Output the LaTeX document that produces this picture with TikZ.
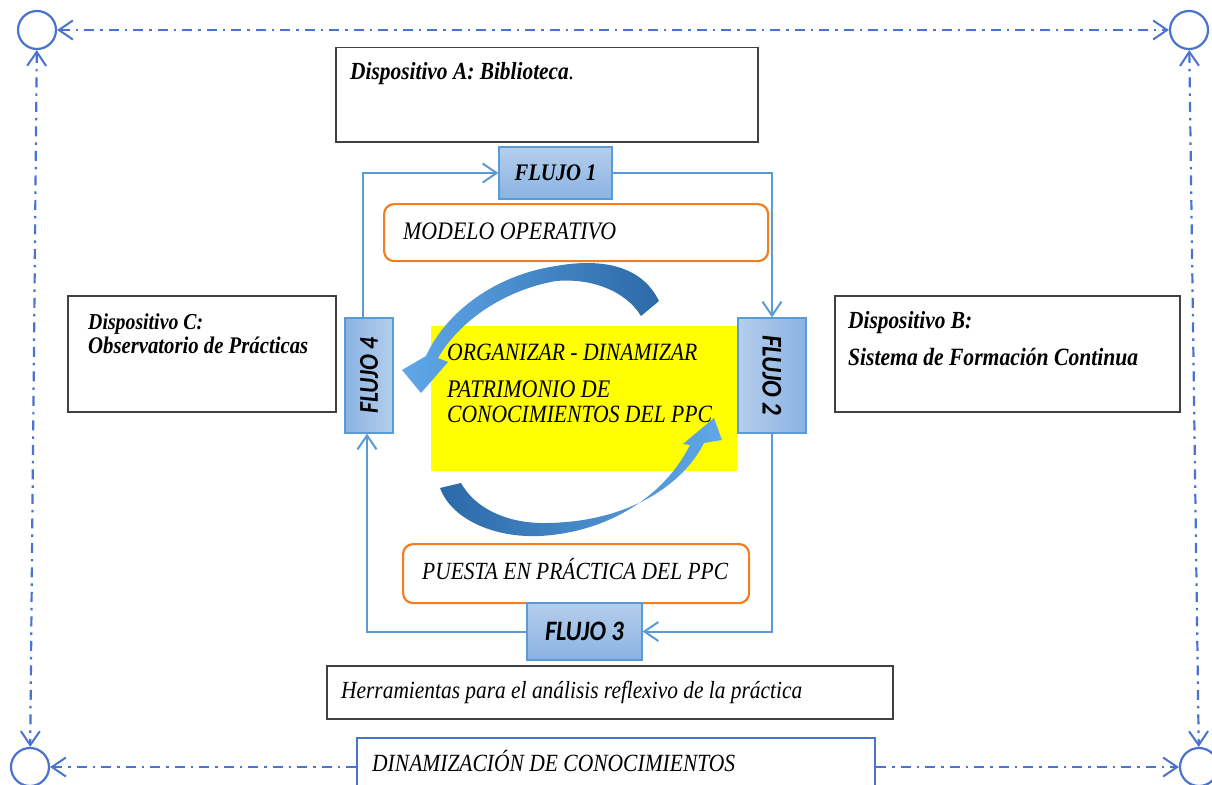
\documentclass[tikz,border=0pt]{standalone}
\usepackage{fontspec}
\setmainfont{Liberation Serif}
\newfontfamily\flujofont{Carlito}
\usetikzlibrary{arrows.meta}

\definecolor{dashblue}{HTML}{4A72CF}
\definecolor{flowblue}{HTML}{5B9BD5}
\definecolor{flowtop}{HTML}{B5CEEC}
\definecolor{flowbot}{HTML}{8AB3E2}
\definecolor{orangeedge}{HTML}{F47E1F}
\definecolor{boxedge}{HTML}{404040}
\definecolor{arcdark}{HTML}{2C69A8}
\definecolor{arclight}{HTML}{60A8E8}
\definecolor{padyellow}{HTML}{FFFF00}

% fit a text to a given width, a little taller than the natural font
\newcommand{\fitw}[2]{\resizebox{#1}{!}{\scalebox{1}[1.15]{#2}}}

\tikzset{
  plainbox/.style={draw=boxedge, line width=1.5pt, fill=white, anchor=north west, inner sep=0pt},
  roundbox/.style={draw=orangeedge, line width=2.2pt, rounded corners=10pt, fill=white, anchor=north west, inner sep=0pt},
  flowbox/.style={draw=flowblue, line width=1.2pt, top color=flowtop, bottom color=flowbot, inner sep=0pt},
  label/.style={anchor=base west, inner sep=0pt},
  ring/.style={circle, draw=dashblue, line width=2.2pt, minimum size=38pt, inner sep=0pt},
  dashline/.style={draw=dashblue, line width=2.2pt, dash pattern=on 10pt off 6pt on 2.5pt off 6pt},
  vtip/.tip={Straight Barb[length=14pt, width=19pt, line width=2pt]},
  flowline/.style={draw=flowblue, line width=2pt},
}

\begin{document}
\begin{tikzpicture}[x=1pt, y=-1pt]
\useasboundingbox (0,0) rectangle (1212,784);

% corner rings
\node[ring] (cTL) at (37,30) {};
\node[ring] (cTR) at (1189,30) {};
\node[ring] (cBL) at (30,767) {};
\node[ring] (cBR) at (1199,767) {};

% boxes of the three devices
\node[plainbox, minimum width=422pt, minimum height=94pt] (devA) at (335,47) {};
\node[label] (devAt) at (350,79) {\fitw{224pt}{\textbf{\textit{Dispositivo A: Biblioteca}}\textit{.}}};

\node[plainbox, minimum width=268pt, minimum height=116pt] (devC) at (67,295) {};
\node[label] (devCt1) at (88,329) {\fitw{115pt}{\textbf{\textit{Dispositivo C:}}}};
\node[label] (devCt2) at (88,353) {\fitw{220pt}{\textbf{\textit{Observatorio de Prácticas}}}};

\node[plainbox, minimum width=345pt, minimum height=116pt] (devB) at (834,295) {};
\node[label] (devBt1) at (848,328) {\fitw{124pt}{\textbf{\textit{Dispositivo B:}}}};
\node[label] (devBt2) at (848,365) {\fitw{290pt}{\textbf{\textit{Sistema de Formación Continua}}}};

% operative model and practice boxes
\node[roundbox, minimum width=384pt, minimum height=57pt] (model) at (383,203) {};
\node[label] (modelt) at (403,239) {\fitw{213pt}{\textit{MODELO OPERATIVO}}};

\node[roundbox, minimum width=346pt, minimum height=59pt] (practice) at (402,543) {};
\node[label] (practicet) at (422,579) {\fitw{306pt}{\textit{PUESTA EN PRÁCTICA DEL PPC}}};

% central knowledge pad
\node[fill=padyellow, anchor=north west, minimum width=306pt, minimum height=145pt, inner sep=0pt] (pad) at (431,326) {};
\node[label] (padt1) at (447,360) {\fitw{250pt}{\textit{ORGANIZAR - DINAMIZAR}}};
\node[label] (padt2) at (447,397) {\fitw{163pt}{\textit{PATRIMONIO DE}}};
\node[label] (padt3) at (447,422) {\fitw{265pt}{\textit{CONOCIMIENTOS DEL PPC}}};

% lower boxes
\node[plainbox, minimum width=566pt, minimum height=53pt] (tools) at (326,665) {};
\node[label] (toolst) at (341,698) {\fitw{461pt}{\textit{Herramientas para el análisis reflexivo de la práctica}}};

\node[plainbox, draw=dashblue, line width=2pt, minimum width=518pt, minimum height=70pt] (dina) at (356,737) {};
\node[label] (dinat) at (372,771) {\fitw{363pt}{\textit{DINAMIZACIÓN DE CONOCIMIENTOS}}};

% the four flows
\node[flowbox, minimum width=113pt, minimum height=52pt] (f1) at (555.5,173) {\fitw{82pt}{\textbf{\textit{FLUJO 1}}}};
\node[flowbox, shading angle=90, minimum width=68pt, minimum height=115pt] (f2) at (772,375.5) {\rotatebox{-90}{\fitw{80pt}{\flujofont\textbf{\textit{FLUJO 2}}}}};
\node[flowbox, minimum width=115pt, minimum height=57pt] (f3) at (584.5,631.5) {\fitw{79pt}{\flujofont\textbf{\textit{FLUJO 3}}}};
\node[flowbox, shading angle=-90, minimum width=48pt, minimum height=115pt] (f4) at (369,375.5) {\rotatebox{90}{\fitw{76pt}{\flujofont\textbf{\textit{FLUJO 4}}}}};

% flow connectors
\draw[flowline, -vtip] ([xshift=-6pt]f4.north) |- (f1.west);
\draw[flowline, -vtip] (f1.east) -| (f2.north);
\draw[flowline, -vtip] (f2.south) |- (f3.east);
\draw[flowline, -vtip] (f3.west) -| ([xshift=-2pt]f4.south);

% dash-dotted frame
\draw[dashline, vtip-vtip] (cTL) -- (cTR);
\draw[dashline, vtip-vtip] (cTL) -- (cBL);
\draw[dashline, vtip-vtip] (cTR) -- (cBR);
\draw[dashline, -vtip] (dina.west |- cBL) -- (cBL);
\draw[dashline, -vtip] (dina.east |- cBR) -- (cBR);

% curved arrow over the pad, turning down towards flow 4
\shade[left color=arclight, right color=arcdark]
  (659,301) .. controls (640,262) and (595,259) .. (556,266)
  .. controls (495,275) and (446,312) .. (426,356)
  -- (402,370) -- (421,393) -- (448,362) -- (438,358)
  .. controls (460,320) and (505,290) .. (556,281)
  .. controls (590,278) and (625,290) .. (641,316) -- cycle;

% curved arrow under the pad, turning up towards flow 2
\shade[left color=arcdark, right color=arclight]
  (440,488) .. controls (452,520) and (495,538) .. (540,536)
  .. controls (610,532) and (665,495) .. (690,445)
  -- (683,444) -- (714,418) -- (722,440) -- (704,443)
  .. controls (680,490) and (620,524) .. (540,523)
  .. controls (505,522) and (475,508) .. (461,483) -- cycle;

\end{tikzpicture}
\end{document}
